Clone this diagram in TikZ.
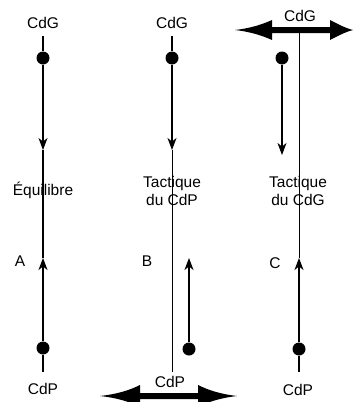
\documentclass[tikz,border=0pt]{standalone}
\usepackage{fontspec}
\setmainfont{Liberation Sans}
\usetikzlibrary{arrows.meta}
\begin{document}
\begin{tikzpicture}[x=1pt,y=-1pt,
  lbl/.style={font=\fontsize{15.5}{18}\selectfont, inner sep=0pt, align=center},
  dot/.style={circle, fill=black, minimum size=13pt, inner sep=0pt},
  ln/.style={line width=1.1pt},
  arr/.style={ln, -{Stealth[length=12pt,width=9pt,inset=3.5pt]}},
  big/.style={fill=black}]
\useasboundingbox (0,0) rectangle (362,402);
% ---------- Column A ----------
\node[lbl] (gA) at (43,23) {CdG};
\coordinate (sA) at (43,36);
\node[dot] (dgA) at (43,58) {};
\coordinate (tA1) at (43,150);
\coordinate (tA2) at (43,258);
\node[dot] (dpA) at (43,348) {};
\coordinate (eA) at (43,372);
\node[lbl] (pA) at (43,389) {CdP};
\draw[ln] (sA) -- (dgA);
\draw[arr] (dgA) -- (tA1);
\draw[ln] (tA1) -- (tA2);
\draw[arr] (dpA) -- (tA2);
\draw[ln] (dpA) -- (eA);
\node[lbl] (eqA) at (43,190) {Équilibre};
\node[lbl] (lA) at (20,261) {A};
% ---------- Column B ----------
\node[lbl] (gB) at (172,23) {CdG};
\coordinate (sB) at (172,36);
\node[dot] (dgB) at (172,58) {};
\coordinate (tB1) at (172,150);
\coordinate (eB) at (172,372);
\draw[ln] (sB) -- (dgB);
\draw[arr] (dgB) -- (tB1);
\draw[line width=0.8pt] (tB1) -- (eB);
\node[dot] (dpB) at (189,349) {};
\coordinate (tB2) at (189,258);
\draw[arr] (dpB) -- (tB2);
\node[lbl] (txB) at (172,191) {Tactique\\du CdP};
\node[lbl] (lB) at (147,261) {B};
\node[lbl] (pB) at (170,382) {CdP};
\fill[big] (100,396) .. controls (118,394) and (130,390) .. (140,385) -- (140,393) -- (198,393) -- (198,385)
  .. controls (208,390) and (220,394) .. (237,396)
  .. controls (220,398) and (208,402) .. (198,407) -- (198,399) -- (140,399) -- (140,407)
  .. controls (130,402) and (118,398) .. (100,396) -- cycle;
% ---------- Column C ----------
\node[lbl] (gC) at (300,16) {CdG};
\fill[big] (235,30) .. controls (252,28) and (263,24) .. (272,20) -- (272,27) -- (330,27) -- (330,20)
  .. controls (338,24) and (345,28) .. (353,30)
  .. controls (345,32) and (338,36) .. (330,40) -- (330,33) -- (272,33) -- (272,40)
  .. controls (263,36) and (252,32) .. (235,30) -- cycle;
\coordinate (sC) at (299,30);
\coordinate (tC2) at (299,258);
\node[dot] (dpC) at (299,349) {};
\coordinate (eC) at (299,372);
\draw[line width=0.8pt] (sC) -- (tC2);
\draw[arr] (dpC) -- (tC2);
\draw[ln] (dpC) -- (eC);
\node[dot] (dgC) at (282,58) {};
\coordinate (tC1) at (282,155);
\draw[arr] (dgC) -- (tC1);
\node[lbl] (txC) at (298,191) {Tactique\\du CdG};
\node[lbl] (lC) at (275,263) {C};
\node[lbl] (pC) at (298,390) {CdP};
\end{tikzpicture}
\end{document}
